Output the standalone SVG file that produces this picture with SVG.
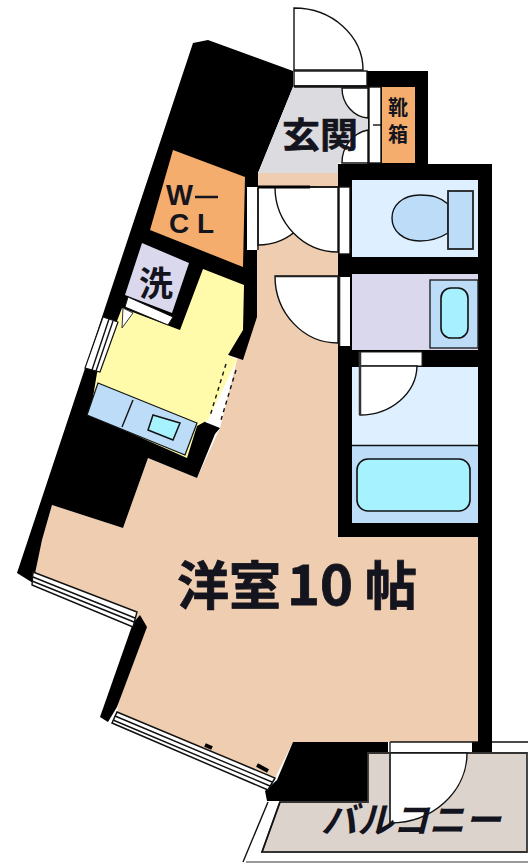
<svg xmlns="http://www.w3.org/2000/svg" width="528" height="863" viewBox="0 0 528 863">
<defs><style>
.w{fill:#000}
.ln{fill:none;stroke:#111;stroke-width:1.4}
.dw{fill:#fff;stroke:#111;stroke-width:1.4}
.t{font-family:"Noto Sans CJK JP","Noto Sans",sans-serif;font-weight:700;fill:#14141e}
.s{font-family:"Liberation Sans",sans-serif;font-weight:700;fill:#14141e}
</style></defs>
<rect width="528" height="863" fill="#fff"/>
<g id="room-main">
<path d="M258 173H338V537H478V742H293L275 778L117 712L137 612L33 572L52 505L123 528L148 458L197 478L220 428L237 360L257 317V173Z" fill="#efcdb0"/>
</g>
<g id="walls">
<path class="w" d="M193 43L208 40L293 71V87L258 173V187H247V250H257V317L243 360L228 355L205 422L220 428L215 434L197 478L148 458L123 528L52 505L42 540L33 583L17 573Z"/>
<path class="w" d="M338 164H367V71H428V164H492V753H472V742H478V537H338Z"/>
<path class="w" d="M140 615L147 627L117 707L108 722L100 717L133 623Z"/>
<path class="w" d="M293 742H388V753H368V801H267L265 791L277 780Z"/>
</g>
<g id="entry">
<path d="M293 87H368V163H338V173H258Z" fill="#dcdce0"/>
<path d="M368 88V118A28 30 0 0 1 342 88Z" class="dw"/>
<path d="M368 130V163H342A32 33 0 0 1 368 130Z" class="dw"/>
<rect x="294" y="71" width="73" height="15" fill="#fff" stroke="#111" stroke-width="1.4"/>
<path d="M294 70V8A69 62 0 0 1 363 70Z" class="dw"/>
<path d="M294 86.500H368" stroke="#111" stroke-width="2.500"/>
<rect x="369" y="87" width="12" height="76" fill="#fff" stroke="#111" stroke-width="1.400"/>
<path d="M373 125H381" class="ln"/>
<text class="t" x="282" y="148" font-size="35" textLength="76" lengthAdjust="spacingAndGlyphs" stroke="#14141e" stroke-width=".6">玄関</text>
</g>
<g id="shoe-closet">
<rect x="382" y="87" width="33" height="76" fill="#f4ad6c"/>
<text class="t" x="388" y="115" font-size="20">靴</text>
<text class="t" x="388" y="142" font-size="20">箱</text>
</g>
<g id="hall-doors">
<path d="M258 187V245A58 58 0 0 0 316 187Z" class="dw"/>
<path d="M338 187V252A63 65 0 0 1 275 187Z" class="dw"/>
<path d="M258 187H310" stroke="#000" stroke-width="3"/>
<path d="M310 187H338" class="ln"/>
<rect x="247" y="188" width="10" height="62" fill="#fff"/>
<path d="M258 188V250" class="ln"/>
<rect x="339" y="187" width="11" height="67" fill="#fff" stroke="#111" stroke-width="1.400"/>
</g>
<g id="wcl">
<path d="M173 150L245 177L243 267L150 230Z" fill="#f4ad6c"/>
<text class="s" x="166" y="205" font-size="30" textLength="27" lengthAdjust="spacingAndGlyphs">W</text>
<path d="M195 197H218" stroke="#14141e" stroke-width="2.500"/>
<text class="s" x="169" y="233" font-size="28">C</text>
<text class="s" x="197" y="233" font-size="28">L</text>
</g>
<g id="toilet">
<rect x="352" y="180" width="126" height="77" fill="#def0ff"/>
<path d="M448 204C440 197 432 195 420 195C402 195 392 206 392 218C392 231 403 241 420 241C432 241 440 238 448 233Z" fill="#bcdcf8" stroke="#111" stroke-width="1.400"/>
<rect x="448" y="191" width="25" height="58" fill="#bcdcf8" stroke="#222" stroke-width="1.800"/>
</g>
<g id="washroom">
<rect x="352" y="274" width="126" height="76" fill="#dad8ec"/>
<rect x="430" y="280" width="48" height="68" fill="#bcdcf8" stroke="#222" stroke-width="1.400"/>
<rect x="441" y="288" width="27" height="50" rx="10" fill="#a6f0ff" stroke="#111" stroke-width="1.600"/>
<path d="M338 343V276H275A63 67 0 0 0 338 343Z" class="dw"/>
<rect x="340" y="277" width="10" height="69" fill="#fff"/>
<path d="M275 276.500H338M339.500 276V346" stroke="#222" stroke-width="1.600"/>
</g>
<g id="bath">
<rect x="352" y="367" width="126" height="78" fill="#def0ff"/>
<rect x="352" y="446" width="126" height="77" fill="#bcdcf8"/>
<path d="M352 445.500H478" class="ln"/>
<rect x="357" y="459" width="113" height="52" rx="11" fill="#a6f2ff" stroke="#111" stroke-width="1.600"/>
<rect x="359" y="352" width="63" height="14" fill="#fff" stroke="#222" stroke-width="1"/>
<path d="M360 366V415A57 50 0 0 0 417 366Z" class="dw"/>
<path d="M360 352V415" stroke="#333" stroke-width="2.500"/>
</g>
<g id="laundry">
<path d="M142 243L189 263L172 313L125 295Z" fill="#dad8ec"/>
<text class="t" x="139" y="296" font-size="34">洗</text>
</g>
<g id="kitchen">
<path d="M203 269L244 285L243 330L228 355L237 360L208 420L197 426L187 458L90 415L97 373L122 308L172 327L180 330Z" fill="#fffbaa"/>
<path d="M128 297L173 317L168 325L125 307Z" fill="#fff" stroke="#111" stroke-width="1"/>
<path d="M123 308L133 313L122 328Z" fill="#fff" stroke="#333"/>
<path d="M98 383L197 423L185 455L87 415Z" fill="#bcdcf8" stroke="#111" stroke-width="1.200"/>
<path d="M133 400L122 427" class="ln"/>
<path d="M153 415L180 423L173 440L148 430Z" fill="#a6f2ff" stroke="#111" stroke-width="1.500"/>
<path d="M226 364L210 416M236 370L221 420" class="ln" stroke-dasharray="4 4"/>
<path d="M103 317L118 322L100 372L85 368Z" fill="#fff" stroke="#111" stroke-width="1.200"/>
<path d="M109 319L92 370M113 321L96 371" class="ln" stroke-width="1"/>
</g>
<g id="windows">
<path d="M33 572L137 612L133 627L32 585Z" fill="#fff" stroke="#111" stroke-width="1.400"/>
<path d="M33 577L135 618M32 581L134 622" class="ln"/>
<path d="M117 712L275 778L268 790L112 723Z" fill="#fff" stroke="#111" stroke-width="1.500"/>
<path d="M115 716L272 782M113 720L270 786" class="ln"/>
<path d="M205 745L212 748M257 765L268 771" stroke="#000" stroke-width="4"/>
</g>
<g id="label-main">
<text class="t" x="177" y="605" font-size="52" stroke="#14141e" stroke-width=".8">洋室</text>
<text class="t" x="287" y="605" font-size="55" textLength="66" lengthAdjust="spacingAndGlyphs" stroke="#14141e" stroke-width=".8">10</text>
<text class="t" x="365" y="605" font-size="52" stroke="#14141e" stroke-width=".8">帖</text>
</g>
<g id="balcony">
<path d="M390 743H472V753H390Z" fill="#fff"/>
<path d="M390 742H478M492 742H528" class="ln"/>
<path d="M368 753H527V852H262L280 802H368Z" fill="#ddd3cd" stroke="#333" stroke-width="1.800"/>
<path d="M390 753V823A77 70 0 0 0 467 753Z" class="dw"/>
<path d="M390 742V823" stroke="#333" stroke-width="1.500"/>
<path d="M268 802L243 862M280 802L262 852" class="ln"/>
<path d="M246 862H528" stroke="#777" stroke-width="1.500"/>
<text class="t" x="321" y="833" font-size="36" textLength="180" lengthAdjust="spacingAndGlyphs" font-style="italic">バルコニー</text>
</g>
</svg>
